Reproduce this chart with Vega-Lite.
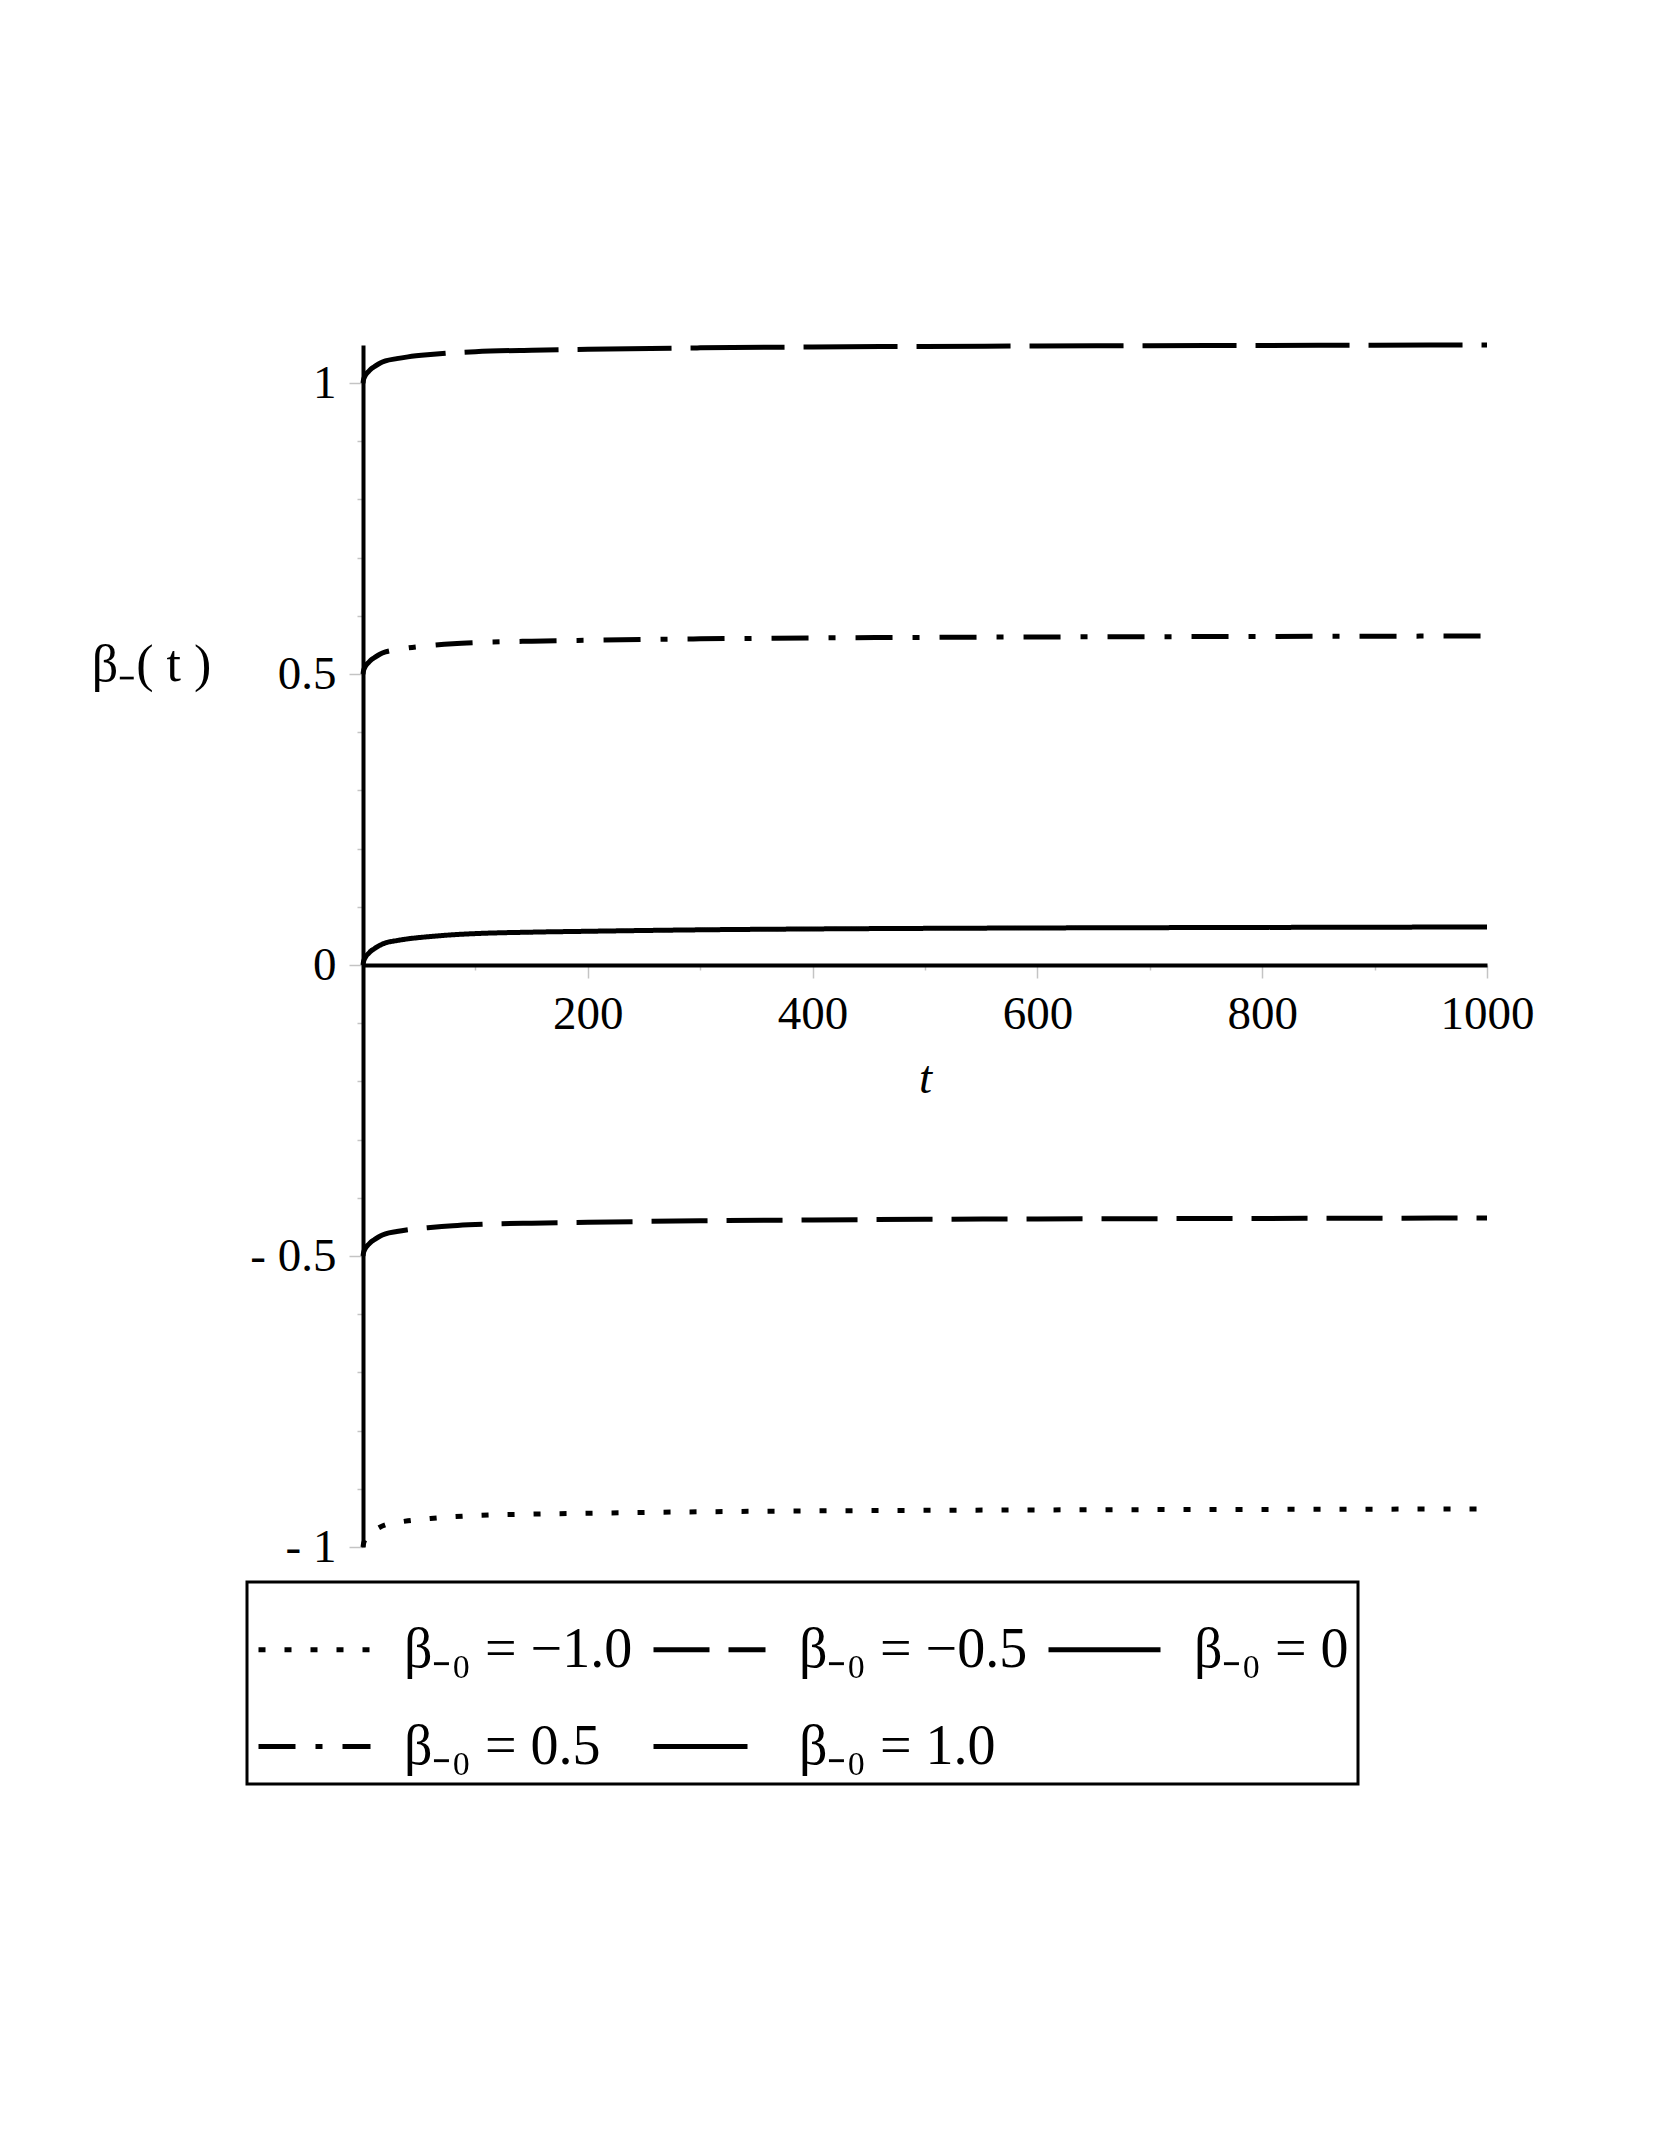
{
  "$schema": "https://vega.github.io/schema/vega-lite/v6.json",
  "width": 1124,
  "height": 1202,
  "autosize": {"type": "none"},
  "padding": {"left": 363, "top": 345, "right": 174, "bottom": 602},
  "background": "white",
  "config": {"view": {"stroke": null}, "font": "Liberation Serif"},
  "data": {"values": [
    {"t":0,"beta":-1,"series":"β₋₀ = −1.0"},{"t":0.5,"beta":-0.994,"series":"β₋₀ = −1.0"},{"t":1,"beta":-0.991,"series":"β₋₀ = −1.0"},{"t":2,"beta":-0.987,"series":"β₋₀ = −1.0"},{"t":3,"beta":-0.984,"series":"β₋₀ = −1.0"},{"t":5,"beta":-0.98,"series":"β₋₀ = −1.0"},{"t":7,"beta":-0.976,"series":"β₋₀ = −1.0"},{"t":10,"beta":-0.972,"series":"β₋₀ = −1.0"},{"t":15,"beta":-0.966,"series":"β₋₀ = −1.0"},{"t":20,"beta":-0.962,"series":"β₋₀ = −1.0"},{"t":30,"beta":-0.958,"series":"β₋₀ = −1.0"},{"t":40,"beta":-0.955,"series":"β₋₀ = −1.0"},{"t":60,"beta":-0.951,"series":"β₋₀ = −1.0"},{"t":80,"beta":-0.948,"series":"β₋₀ = −1.0"},{"t":100,"beta":-0.946,"series":"β₋₀ = −1.0"},{"t":150,"beta":-0.9435,"series":"β₋₀ = −1.0"},{"t":200,"beta":-0.942,"series":"β₋₀ = −1.0"},{"t":300,"beta":-0.9395,"series":"β₋₀ = −1.0"},{"t":400,"beta":-0.938,"series":"β₋₀ = −1.0"},{"t":500,"beta":-0.937,"series":"β₋₀ = −1.0"},{"t":600,"beta":-0.9363,"series":"β₋₀ = −1.0"},{"t":700,"beta":-0.9358,"series":"β₋₀ = −1.0"},{"t":800,"beta":-0.9354,"series":"β₋₀ = −1.0"},{"t":900,"beta":-0.935,"series":"β₋₀ = −1.0"},{"t":1000,"beta":-0.9346,"series":"β₋₀ = −1.0"},
    {"t":0,"beta":-0.5,"series":"β₋₀ = −0.5"},{"t":0.5,"beta":-0.494,"series":"β₋₀ = −0.5"},{"t":1,"beta":-0.491,"series":"β₋₀ = −0.5"},{"t":2,"beta":-0.487,"series":"β₋₀ = −0.5"},{"t":3,"beta":-0.484,"series":"β₋₀ = −0.5"},{"t":5,"beta":-0.48,"series":"β₋₀ = −0.5"},{"t":7,"beta":-0.476,"series":"β₋₀ = −0.5"},{"t":10,"beta":-0.472,"series":"β₋₀ = −0.5"},{"t":15,"beta":-0.466,"series":"β₋₀ = −0.5"},{"t":20,"beta":-0.462,"series":"β₋₀ = −0.5"},{"t":30,"beta":-0.458,"series":"β₋₀ = −0.5"},{"t":40,"beta":-0.455,"series":"β₋₀ = −0.5"},{"t":60,"beta":-0.451,"series":"β₋₀ = −0.5"},{"t":80,"beta":-0.448,"series":"β₋₀ = −0.5"},{"t":100,"beta":-0.446,"series":"β₋₀ = −0.5"},{"t":150,"beta":-0.4435,"series":"β₋₀ = −0.5"},{"t":200,"beta":-0.442,"series":"β₋₀ = −0.5"},{"t":300,"beta":-0.4395,"series":"β₋₀ = −0.5"},{"t":400,"beta":-0.438,"series":"β₋₀ = −0.5"},{"t":500,"beta":-0.437,"series":"β₋₀ = −0.5"},{"t":600,"beta":-0.4363,"series":"β₋₀ = −0.5"},{"t":700,"beta":-0.4358,"series":"β₋₀ = −0.5"},{"t":800,"beta":-0.4354,"series":"β₋₀ = −0.5"},{"t":900,"beta":-0.435,"series":"β₋₀ = −0.5"},{"t":1000,"beta":-0.4346,"series":"β₋₀ = −0.5"},
    {"t":0,"beta":0,"series":"β₋₀ = 0"},{"t":0.5,"beta":0.006,"series":"β₋₀ = 0"},{"t":1,"beta":0.009,"series":"β₋₀ = 0"},{"t":2,"beta":0.013,"series":"β₋₀ = 0"},{"t":3,"beta":0.016,"series":"β₋₀ = 0"},{"t":5,"beta":0.02,"series":"β₋₀ = 0"},{"t":7,"beta":0.024,"series":"β₋₀ = 0"},{"t":10,"beta":0.028,"series":"β₋₀ = 0"},{"t":15,"beta":0.034,"series":"β₋₀ = 0"},{"t":20,"beta":0.038,"series":"β₋₀ = 0"},{"t":30,"beta":0.042,"series":"β₋₀ = 0"},{"t":40,"beta":0.045,"series":"β₋₀ = 0"},{"t":60,"beta":0.049,"series":"β₋₀ = 0"},{"t":80,"beta":0.052,"series":"β₋₀ = 0"},{"t":100,"beta":0.054,"series":"β₋₀ = 0"},{"t":150,"beta":0.0565,"series":"β₋₀ = 0"},{"t":200,"beta":0.058,"series":"β₋₀ = 0"},{"t":300,"beta":0.0605,"series":"β₋₀ = 0"},{"t":400,"beta":0.062,"series":"β₋₀ = 0"},{"t":500,"beta":0.063,"series":"β₋₀ = 0"},{"t":600,"beta":0.0637,"series":"β₋₀ = 0"},{"t":700,"beta":0.0642,"series":"β₋₀ = 0"},{"t":800,"beta":0.0646,"series":"β₋₀ = 0"},{"t":900,"beta":0.065,"series":"β₋₀ = 0"},{"t":1000,"beta":0.0654,"series":"β₋₀ = 0"},
    {"t":0,"beta":0.5,"series":"β₋₀ = 0.5"},{"t":0.5,"beta":0.506,"series":"β₋₀ = 0.5"},{"t":1,"beta":0.509,"series":"β₋₀ = 0.5"},{"t":2,"beta":0.513,"series":"β₋₀ = 0.5"},{"t":3,"beta":0.516,"series":"β₋₀ = 0.5"},{"t":5,"beta":0.52,"series":"β₋₀ = 0.5"},{"t":7,"beta":0.524,"series":"β₋₀ = 0.5"},{"t":10,"beta":0.528,"series":"β₋₀ = 0.5"},{"t":15,"beta":0.534,"series":"β₋₀ = 0.5"},{"t":20,"beta":0.538,"series":"β₋₀ = 0.5"},{"t":30,"beta":0.542,"series":"β₋₀ = 0.5"},{"t":40,"beta":0.545,"series":"β₋₀ = 0.5"},{"t":60,"beta":0.549,"series":"β₋₀ = 0.5"},{"t":80,"beta":0.552,"series":"β₋₀ = 0.5"},{"t":100,"beta":0.554,"series":"β₋₀ = 0.5"},{"t":150,"beta":0.5565,"series":"β₋₀ = 0.5"},{"t":200,"beta":0.558,"series":"β₋₀ = 0.5"},{"t":300,"beta":0.5605,"series":"β₋₀ = 0.5"},{"t":400,"beta":0.562,"series":"β₋₀ = 0.5"},{"t":500,"beta":0.563,"series":"β₋₀ = 0.5"},{"t":600,"beta":0.5637,"series":"β₋₀ = 0.5"},{"t":700,"beta":0.5642,"series":"β₋₀ = 0.5"},{"t":800,"beta":0.5646,"series":"β₋₀ = 0.5"},{"t":900,"beta":0.565,"series":"β₋₀ = 0.5"},{"t":1000,"beta":0.5654,"series":"β₋₀ = 0.5"},
    {"t":0,"beta":1,"series":"β₋₀ = 1.0"},{"t":0.5,"beta":1.006,"series":"β₋₀ = 1.0"},{"t":1,"beta":1.009,"series":"β₋₀ = 1.0"},{"t":2,"beta":1.013,"series":"β₋₀ = 1.0"},{"t":3,"beta":1.016,"series":"β₋₀ = 1.0"},{"t":5,"beta":1.02,"series":"β₋₀ = 1.0"},{"t":7,"beta":1.024,"series":"β₋₀ = 1.0"},{"t":10,"beta":1.028,"series":"β₋₀ = 1.0"},{"t":15,"beta":1.034,"series":"β₋₀ = 1.0"},{"t":20,"beta":1.038,"series":"β₋₀ = 1.0"},{"t":30,"beta":1.042,"series":"β₋₀ = 1.0"},{"t":40,"beta":1.045,"series":"β₋₀ = 1.0"},{"t":60,"beta":1.049,"series":"β₋₀ = 1.0"},{"t":80,"beta":1.052,"series":"β₋₀ = 1.0"},{"t":100,"beta":1.054,"series":"β₋₀ = 1.0"},{"t":150,"beta":1.0565,"series":"β₋₀ = 1.0"},{"t":200,"beta":1.058,"series":"β₋₀ = 1.0"},{"t":300,"beta":1.0605,"series":"β₋₀ = 1.0"},{"t":400,"beta":1.062,"series":"β₋₀ = 1.0"},{"t":500,"beta":1.063,"series":"β₋₀ = 1.0"},{"t":600,"beta":1.0637,"series":"β₋₀ = 1.0"},{"t":700,"beta":1.0642,"series":"β₋₀ = 1.0"},{"t":800,"beta":1.0646,"series":"β₋₀ = 1.0"},{"t":900,"beta":1.065,"series":"β₋₀ = 1.0"},{"t":1000,"beta":1.0654,"series":"β₋₀ = 1.0"}
  ]},
  "mark": {"type": "line", "color": "black", "strokeWidth": 5, "interpolate": "monotone", "strokeCap": "butt"},
  "encoding": {
    "x": {
      "field": "t", "type": "quantitative",
      "scale": {"domain": [0, 1000], "nice": false},
      "axis": {
        "orient": "bottom", "offset": -582,
        "values": [0, 100, 200, 300, 400, 500, 600, 700, 800, 900, 1000],
        "format": "d",
        "labelExpr": "datum.value > 0 && datum.value % 200 === 0 ? datum.label : ''",
        "tickSize": {"condition": {"test": "datum.value % 200 === 0", "value": 13}, "value": 5},
        "tickColor": "#c4c4c4", "tickWidth": 1.5,
        "domainColor": "black", "domainWidth": 4,
        "labelFont": "Liberation Serif", "labelFontSize": 47, "labelColor": "black", "labelPadding": 13,
        "labelFlush": false, "labelOverlap": false,
        "grid": false,
        "title": "t", "titleFont": "Liberation Serif", "titleFontStyle": "italic", "titleFontWeight": "normal",
        "titleFontSize": 47, "titleColor": "black", "titleX": 562, "titleY": 113, "titleBaseline": "middle", "titleAlign": "center"
      }
    },
    "y": {
      "field": "beta", "type": "quantitative",
      "scale": {"domain": [-1, 1.0654], "nice": false, "zero": false},
      "axis": {
        "orient": "left",
        "values": [-1, -0.9, -0.8, -0.7, -0.6, -0.5, -0.4, -0.3, -0.2, -0.1, 0, 0.1, 0.2, 0.3, 0.4, 0.5, 0.6, 0.7, 0.8, 0.9, 1],
        "labelExpr": "abs(round(datum.value*10)) % 5 === 0 ? (datum.value < 0 ? '- ' + format(-datum.value, '') : format(datum.value, '')) : ''",
        "tickSize": {"condition": {"test": "abs(round(datum.value*10)) % 5 === 0", "value": 14}, "value": 6},
        "tickColor": "#c4c4c4", "tickWidth": 1.5,
        "domainColor": "black", "domainWidth": 4,
        "labelFont": "Liberation Serif", "labelFontSize": 47, "labelColor": "black", "labelPadding": 13,
        "labelBaseline": "middle", "labelFlush": false, "labelOverlap": false,
        "grid": false,
        "title": "β₋( t )", "titleFont": "Liberation Serif", "titleFontWeight": "normal", "titleFontSize": 52, "titleColor": "black",
        "titleAngle": 0, "titleX": -212, "titleY": 319, "titleAlign": "center", "titleBaseline": "middle"
      }
    },
    "strokeDash": {
      "field": "series", "type": "nominal",
      "scale": {
        "domain": ["β₋₀ = −1.0", "β₋₀ = −0.5", "β₋₀ = 0", "β₋₀ = 0.5", "β₋₀ = 1.0"],
        "range": [[7, 19], [56, 19], [1, 0], [37, 20, 7, 20], [94, 19]]
      },
      "legend": {
        "orient": "none", "legendX": -116, "legendY": 1237,
        "direction": "horizontal", "columns": 3, "title": null,
        "symbolType": "stroke", "symbolSize": 12544, "symbolStrokeWidth": 5, "symbolStrokeColor": "black",
        "labelFont": "Liberation Serif", "labelFontSize": 56, "labelColor": "black", "labelOffset": 31, "labelLimit": 0,
        "strokeColor": "black", "fillColor": "white", "padding": 9, "rowPadding": 10, "columnPadding": 10,
        "encode": {"legend": {"update": {"strokeWidth": {"value": 3}}}}
      }
    }
  }
}
